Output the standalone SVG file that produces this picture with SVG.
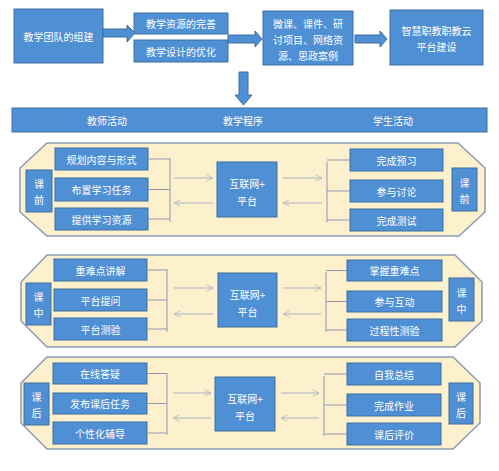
<svg xmlns="http://www.w3.org/2000/svg" width="499" height="471" viewBox="0 0 499 471">
<defs>
<style>
.b{fill:#4F8FD4;stroke:#3F6FA0;stroke-width:1}
.t{fill:#fff;font-family:"Noto Sans CJK SC","Noto Sans",sans-serif;font-size:10px;text-anchor:middle;dominant-baseline:central}
.p{fill:#FDF0CD;stroke:#8C9BB2;stroke-width:1.5}
.l{fill:none;stroke:#8C9BB2;stroke-width:1}
.a{fill:none;stroke:#A9B5C6;stroke-width:1}
.ba{fill:#4F8FD4;stroke:#3F6FA0;stroke-width:1}
</style>
<marker id="ah" viewBox="0 0 10 10" refX="9" refY="5" markerWidth="8" markerHeight="8" orient="auto-start-reverse" markerUnits="userSpaceOnUse">
<polyline points="1,1 9,5 1,9" fill="none" stroke="#A9B5C6" stroke-width="1"/>
</marker>
</defs>
<rect width="499" height="471" fill="#fff"/>

<!-- top row -->
<g id="n-team"><rect class="b" x="14" y="9" width="89" height="54"/><text class="t" x="58.5" y="36">教学团队的组建</text></g>
<g id="n-res"><rect class="b" x="134" y="13" width="94" height="21"/><text class="t" x="181" y="23.5">教学资源的完善</text></g>
<g id="n-design"><rect class="b" x="134" y="40" width="94" height="22"/><text class="t" x="181" y="51">教学设计的优化</text></g>
<g id="n-micro"><rect class="b" x="263" y="11" width="90" height="54"/>
<text class="t" x="308" y="23">微课、课件、研</text><text class="t" x="308" y="39">讨项目、网络资</text><text class="t" x="308" y="55">源、思政案例</text></g>
<g id="n-cloud"><rect class="b" x="390" y="10" width="93" height="55"/>
<text class="t" x="436.5" y="30">智慧职教职教云</text><text class="t" x="436.5" y="46">平台建设</text></g>

<g id="n-header"><rect class="b" x="12" y="108" width="475" height="24"/>
<text class="t" x="107" y="120">教师活动</text><text class="t" x="243" y="120">教学程序</text><text class="t" x="393" y="120">学生活动</text></g>

<!-- panels -->
<g id="panel-pre">
<polygon class="p" points="47,143 458,143 485,168 485,212 459,236 47,236 20,212 20,168"/>
<g id="pre-l1"><rect class="b" x="55" y="148" width="93" height="22"/><text class="t" x="101.5" y="159">规划内容与形式</text></g>
<g id="pre-l2"><rect class="b" x="55" y="178" width="93" height="23"/><text class="t" x="101.5" y="189.5">布置学习任务</text></g>
<g id="pre-l3"><rect class="b" x="55" y="208" width="93" height="22"/><text class="t" x="101.5" y="219">提供学习资源</text></g>
<g id="pre-lt"><rect class="b" x="26" y="170" width="26" height="42"/><text class="t" x="39" y="183">课</text><text class="t" x="39" y="199">前</text></g>
<g id="pre-c"><rect class="b" x="217" y="162" width="60" height="55"/><text class="t" x="247" y="183">互联网+</text><text class="t" x="247" y="200">平台</text></g>
<g id="pre-r1"><rect class="b" x="350" y="149" width="93" height="22"/><text class="t" x="396.5" y="160">完成预习</text></g>
<g id="pre-r2"><rect class="b" x="350" y="180" width="93" height="22"/><text class="t" x="396.5" y="191">参与讨论</text></g>
<g id="pre-r3"><rect class="b" x="350" y="209" width="93" height="22"/><text class="t" x="396.5" y="220">完成测试</text></g>
<g id="pre-rt"><rect class="b" x="452" y="168" width="25" height="43"/><text class="t" x="464.5" y="182">课</text><text class="t" x="464.5" y="198">前</text></g>
</g>

<g id="panel-in">
<polygon class="p" points="47,255 455,255 482,282 482,321 455,347 47,347 21,321 21,282"/>
<g id="in-l1"><rect class="b" x="54" y="259" width="93" height="22"/><text class="t" x="100.5" y="270">重难点讲解</text></g>
<g id="in-l2"><rect class="b" x="54" y="289" width="93" height="22"/><text class="t" x="100.5" y="300">平台提问</text></g>
<g id="in-l3"><rect class="b" x="54" y="318" width="93" height="22"/><text class="t" x="100.5" y="329">平台测验</text></g>
<g id="in-lt"><rect class="b" x="26" y="283" width="25" height="42"/><text class="t" x="38.5" y="296">课</text><text class="t" x="38.5" y="312">中</text></g>
<g id="in-c"><rect class="b" x="218" y="273" width="59" height="54"/><text class="t" x="247.5" y="294">互联网+</text><text class="t" x="247.5" y="311">平台</text></g>
<g id="in-r1"><rect class="b" x="347" y="260" width="95" height="21"/><text class="t" x="394.5" y="270.5">掌握重难点</text></g>
<g id="in-r2"><rect class="b" x="347" y="291" width="95" height="21"/><text class="t" x="394.5" y="301.5">参与互动</text></g>
<g id="in-r3"><rect class="b" x="347" y="319" width="95" height="22"/><text class="t" x="394.5" y="330">过程性测验</text></g>
<g id="in-rt"><rect class="b" x="449" y="278" width="25" height="43"/><text class="t" x="461.5" y="292">课</text><text class="t" x="461.5" y="308">中</text></g>
</g>

<g id="panel-post">
<polygon class="p" points="47,357 453,357 480,383 480,423 453,449 47,449 21,423 21,383"/>
<g id="post-l1"><rect class="b" x="53" y="363" width="94" height="21"/><text class="t" x="100" y="373.5">在线答疑</text></g>
<g id="post-l2"><rect class="b" x="53" y="393" width="94" height="21"/><text class="t" x="100" y="403.5">发布课后任务</text></g>
<g id="post-l3"><rect class="b" x="53" y="422" width="94" height="22"/><text class="t" x="100" y="433">个性化辅导</text></g>
<g id="post-lt"><rect class="b" x="24" y="383" width="25" height="42"/><text class="t" x="36.5" y="396">课</text><text class="t" x="36.5" y="412">后</text></g>
<g id="post-c"><rect class="b" x="215" y="377" width="60" height="54"/><text class="t" x="245" y="398">互联网+</text><text class="t" x="245" y="415">平台</text></g>
<g id="post-r1"><rect class="b" x="347" y="363" width="94" height="22"/><text class="t" x="394" y="374">自我总结</text></g>
<g id="post-r2"><rect class="b" x="347" y="394" width="94" height="22"/><text class="t" x="394" y="405">完成作业</text></g>
<g id="post-r3"><rect class="b" x="347" y="423" width="94" height="22"/><text class="t" x="394" y="434">课后评价</text></g>
<g id="post-rt"><rect class="b" x="449" y="383" width="24" height="41"/><text class="t" x="461" y="396">课</text><text class="t" x="461" y="412">后</text></g>
</g>

<g id="connectors">
<!-- top block arrows -->
<polygon class="ba" points="103,29 127,29 127,25 135,33 127,42 127,37 103,37"/>
<polygon class="ba" points="228,35 255,35 255,31 262,39 255,47 255,43 228,43"/>
<polygon class="ba" points="355,35 380,35 380,31 387,39 380,47 380,43 355,43"/>
<polygon class="ba" points="239,72 248,72 248,95 252,95 243.5,105 235,95 239,95"/>

<!-- panel 1 -->
<path class="l" d="M148,159H170M148,189.5H170M148,219H170M170,158V222"/>
<path class="l" d="M327,162V222M327,160H350M327,191H350M327,220H350"/>
<line class="a" x1="174" y1="178" x2="213" y2="178" marker-end="url(#ah)"/>
<line class="a" x1="213" y1="203" x2="174" y2="203" marker-end="url(#ah)"/>
<line class="a" x1="283" y1="178" x2="322" y2="178" marker-end="url(#ah)"/>
<line class="a" x1="322" y1="203" x2="283" y2="203" marker-end="url(#ah)"/>

<!-- panel 2 -->
<path class="l" d="M147,270H167M147,300H167M147,329H167M167,269V332"/>
<path class="l" d="M326,272V332M326,270.5H347M326,301.5H347M326,330H347"/>
<line class="a" x1="174" y1="288" x2="213" y2="288" marker-end="url(#ah)"/>
<line class="a" x1="213" y1="314" x2="174" y2="314" marker-end="url(#ah)"/>
<line class="a" x1="283" y1="288" x2="321" y2="288" marker-end="url(#ah)"/>
<line class="a" x1="321" y1="314" x2="283" y2="314" marker-end="url(#ah)"/>

<!-- panel 3 -->
<path class="l" d="M147,373.5H167M147,403.5H167M147,433H167M167,373V435"/>
<path class="l" d="M324,376V436M324,374H347M324,405H347M324,434H347"/>
<line class="a" x1="173" y1="393" x2="211" y2="393" marker-end="url(#ah)"/>
<line class="a" x1="211" y1="418" x2="173" y2="418" marker-end="url(#ah)"/>
<line class="a" x1="281" y1="393" x2="319" y2="393" marker-end="url(#ah)"/>
<line class="a" x1="319" y1="418" x2="281" y2="418" marker-end="url(#ah)"/>
</g>
</svg>
